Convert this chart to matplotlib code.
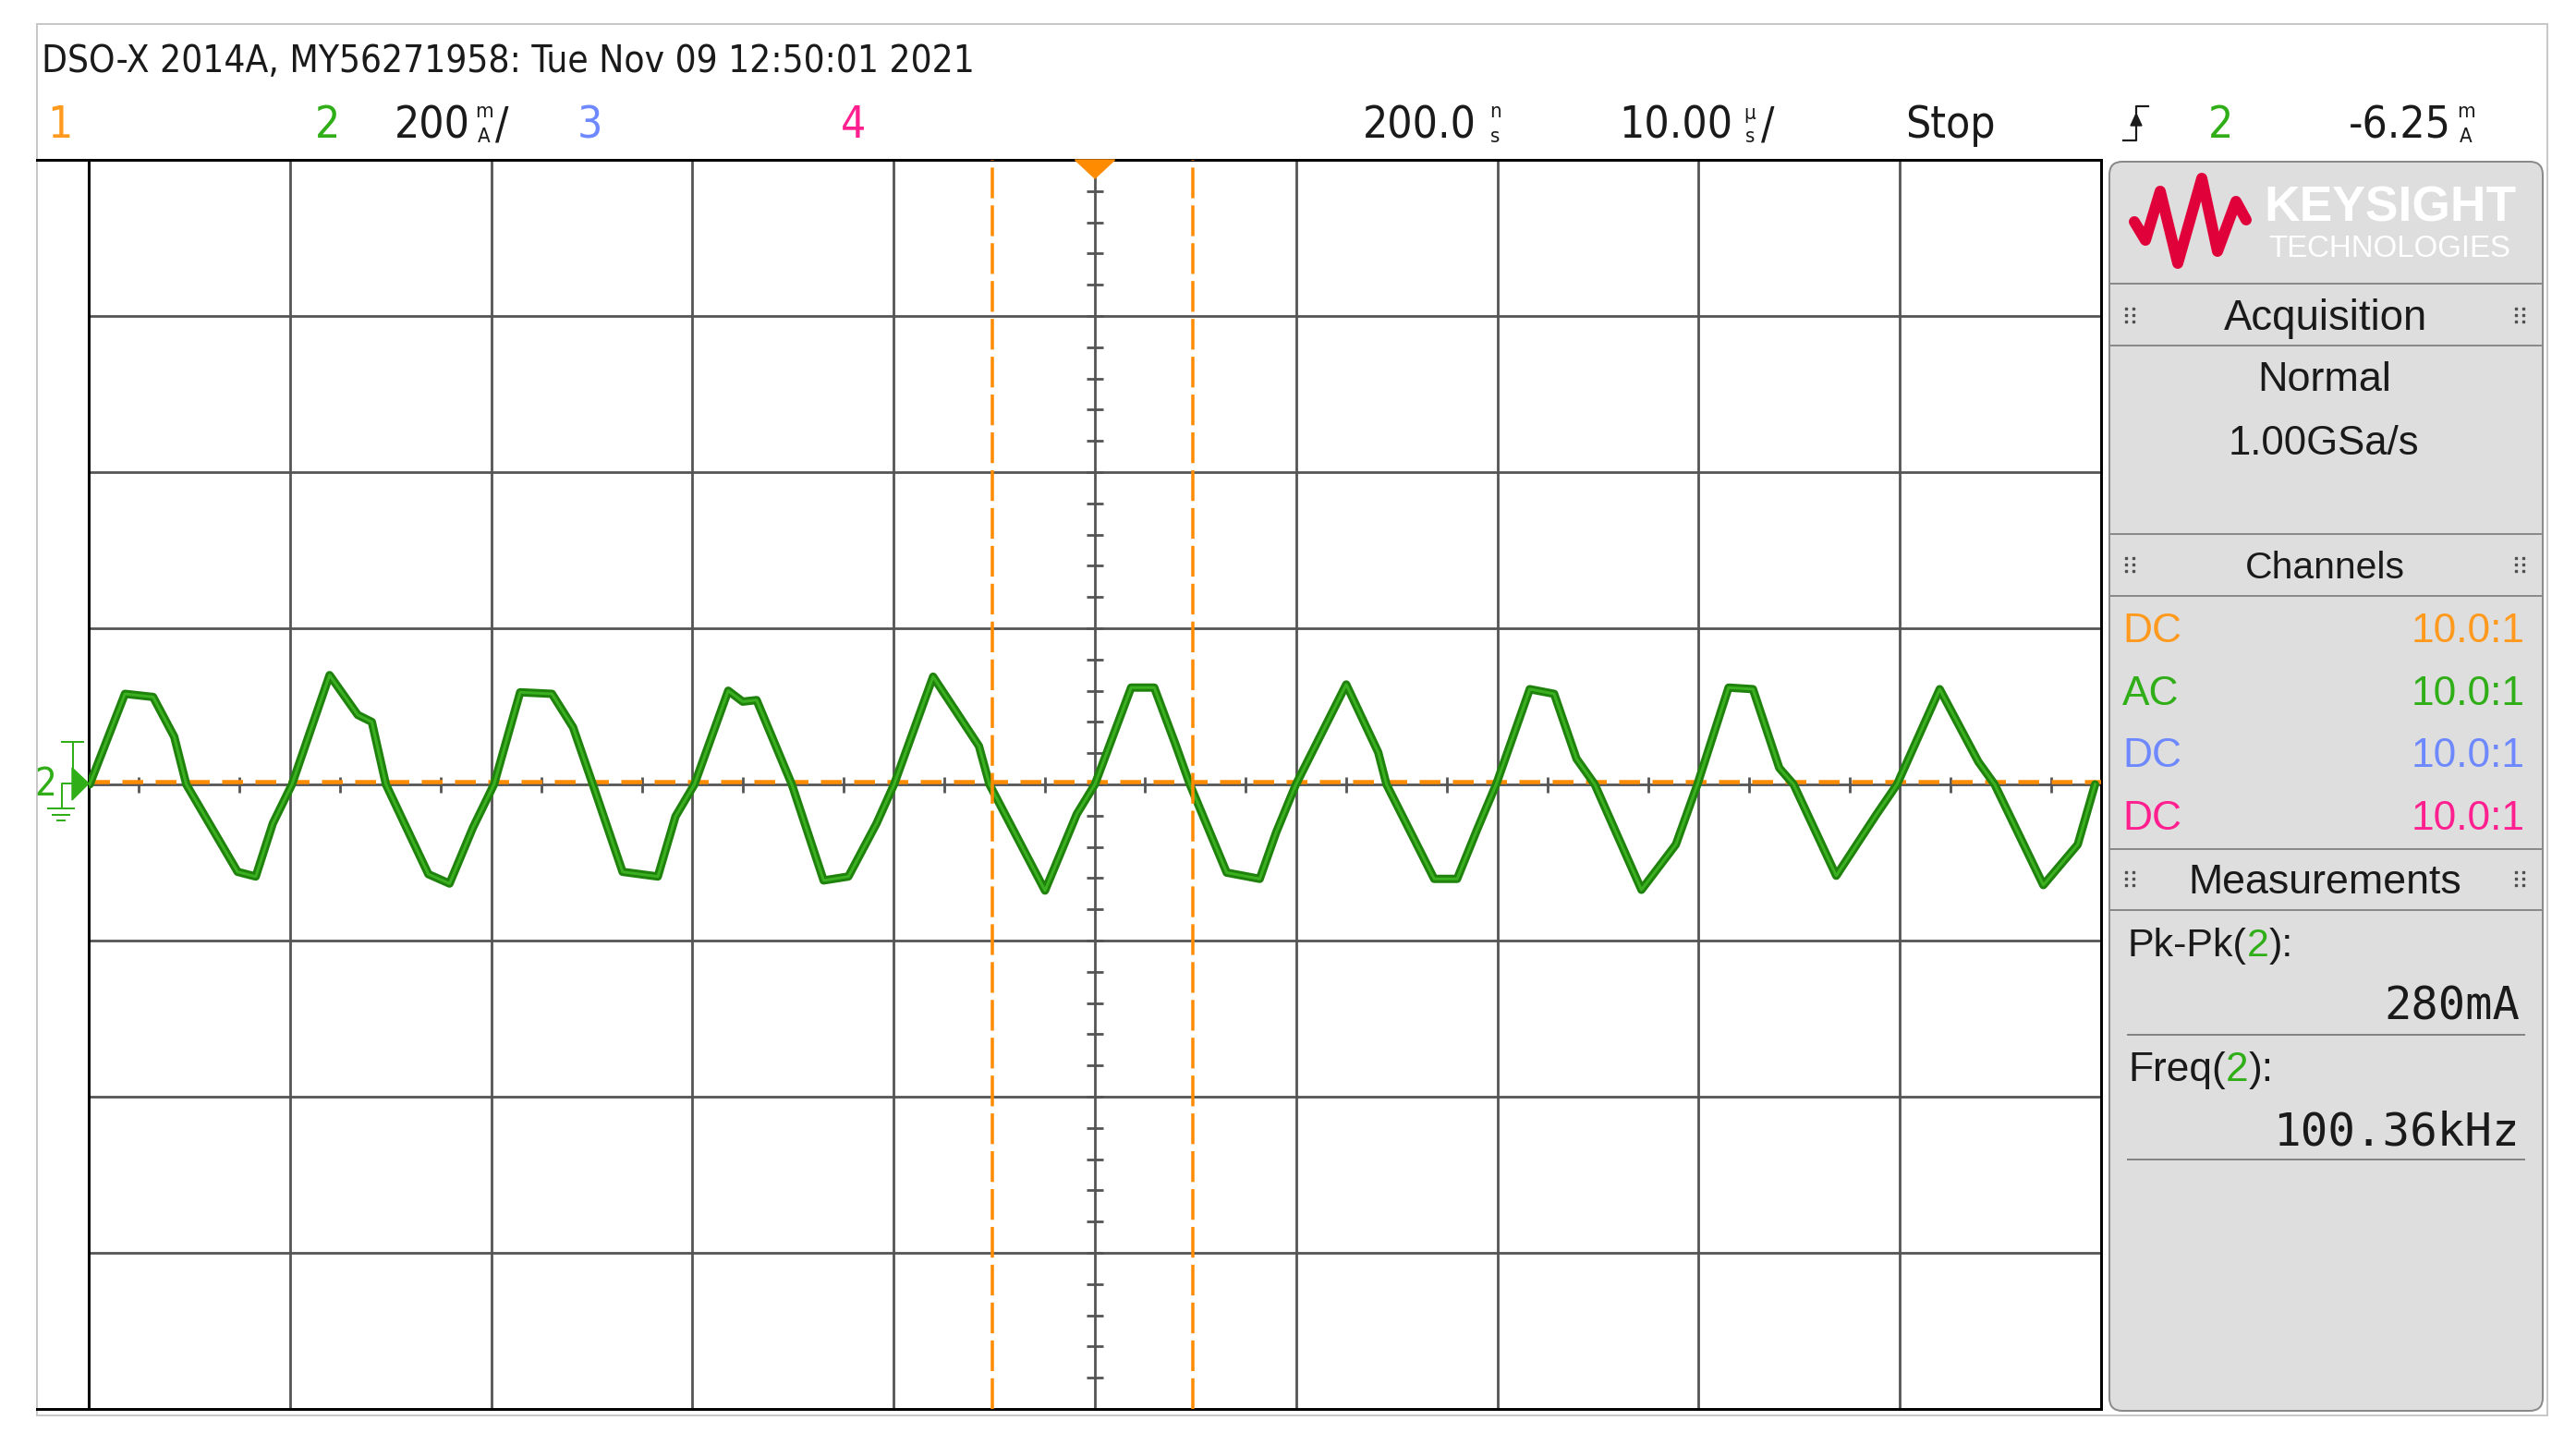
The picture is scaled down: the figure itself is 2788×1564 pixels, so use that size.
import numpy as np
import matplotlib
matplotlib.use('Agg')
import matplotlib.pyplot as plt
import matplotlib.transforms as mtransforms
from matplotlib import font_manager
from matplotlib.font_manager import FontProperties
from matplotlib.patches import Polygon, Rectangle, FancyBboxPatch

# ---- what the scope screen shows ----
title = 'DSO-X 2014A, MY56271958: Tue Nov 09 12:50:01 2021'
ch_labels = ['1', '2', '3', '4']
ch_colors = ['#ff9a1e', '#2fae17', '#6e88ff', '#ff1f8f']
ch_coupling = ['DC', 'AC', 'DC', 'DC']
ch_probe = ['10.0:1', '10.0:1', '10.0:1', '10.0:1']
ch2_scale = '200'      # mA/div
delay = '200.0'        # ns
timebase = '10.00'     # us/div
run_state = 'Stop'
trig_level = '-6.25'   # mA
acq_mode = 'Normal'
acq_rate = '1.00GSa/s'
meas_labels = ['Pk-Pk', 'Freq']
meas_values = ['280mA', '100.36kHz']

us_per_div = 10.0
ma_per_div = 200.0
cursor_t = [-5.1, 4.86]   # us, orange X cursors
ref_ma = 4.0              # orange dashed level

# channel 2 trace, corner points (us, mA)
t_us = [-49.95, -48.2, -46.8, -45.75, -45.15, -42.6, -41.7, -40.85, -39.9,
        -38.03, -36.63, -35.93, -35.23, -33.12, -32.07, -30.9, -29.86,
        -28.56, -26.98, -25.93, -24.95, -23.47, -21.72, -20.84, -19.9,
        -18.22, -17.5, -16.81, -15.06, -13.48, -12.25, -10.85, -9.98,
        -8.04, -5.76, -5.24, -2.48, -0.9, 0.0,
        1.8, 2.95, 4.01, 4.72, 6.55, 8.19, 9.0, 9.99,
        12.49, 14.08, 14.49, 16.86, 18.0, 18.99, 19.94,
        21.61, 22.82, 23.93, 24.84, 27.16, 28.87, 29.94,
        31.49, 32.7, 34.01, 34.72, 36.84, 38.85, 39.86,
        41.98, 43.9, 44.71, 47.13, 48.84, 49.7]
i_ma = [0, 116, 112, 61, 0, -112, -118, -50, 0,
        140, 89, 80, 0, -115, -127, -55, 0,
        118, 116, 73, 0, -112, -118, -41, 0,
        120, 106, 108, 0, -123, -118, -50, 0,
        138, 49, 0, -136, -38, 0,
        124, 124, 51, 0, -113, -121, -62, 0,
        128, 41, 0, -121, -121, -58, 0,
        122, 116, 33, 0, -135, -77, 0,
        124, 122, 21, 0, -117, -38, 0,
        122, 29, 0, -129, -77, 0]

# ---- layout ----
W, H = 2788, 1564
PX = 0.72            # points per pixel at dpi 100
orange = '#ff8c00'
grid = '#555555'
ink = '#1a1a1a'


def find_narrow():
    # a condensed sans for the tall narrow scope header font, if one is installed
    spare = None
    for f in font_manager.fontManager.ttflist:
        nm = f.name + ' ' + f.fname
        if f.style != 'normal' or f.weight not in (400, 'normal', 'regular'):
            continue
        if ('Narrow' in nm or 'Condensed' in nm
                or f.stretch in ('condensed', 'semi-condensed', 'extra-condensed')):
            if 'Semi' in nm or 'Extra' in nm or 'Ultra' in nm:
                spare = spare or f.fname
                continue
            return f.fname
    return spare


_np = find_narrow()
NARROW = {'fontproperties': FontProperties(fname=_np)} if _np else {'family': 'Liberation Sans'}
UI = {'family': 'Liberation Sans'}
MONO = {'family': 'DejaVu Sans Mono'}

fig = plt.figure(figsize=(W / 100, H / 100), dpi=100)
fig.patch.set_facecolor('white')

L, R, T, B = 96, 2274, 173, 1525
ax = fig.add_axes([L / W, 1 - B / H, (R - L) / W, (B - T) / H])
ax.set_xlim(-5 * us_per_div, 5 * us_per_div)
ax.set_ylim(-4 * ma_per_div, 4 * ma_per_div)
ax.set_xticks([])
ax.set_yticks([])
for sp in ax.spines.values():
    sp.set_color('black')
    sp.set_linewidth(3 * PX)

for k in range(-4, 5):
    ax.axvline(k * us_per_div, color=grid, lw=2.8 * PX, zorder=1)
for k in range(-3, 4):
    ax.axhline(k * ma_per_div, color=grid, lw=2.8 * PX, zorder=1)
xt = np.arange(-4.75, 5, 0.5) * us_per_div
yt = np.arange(-4, 4.01, 0.2) * ma_per_div
ax.plot(xt, np.zeros_like(xt), ls='none', marker='|', ms=17 * PX,
        mew=2.8 * PX, color=grid, zorder=2)
ax.plot(np.zeros_like(yt), yt, ls='none', marker='_', ms=18 * PX,
        mew=2.8 * PX, color=grid, zorder=2)

ax.axhline(ref_ma, color=orange, lw=4.5 * PX, dashes=(5, 3), zorder=3)
ax.plot(t_us, i_ma, color='#1f820c', lw=9 * PX, solid_joinstyle='round',
        solid_capstyle='round', zorder=4)
ax.plot(t_us, i_ma, color='#3bb020', lw=3 * PX, solid_joinstyle='round', zorder=5)
for c in cursor_t:
    ax.axvline(c, color=orange, lw=3.5 * PX, dashes=(9.5, 2.2), zorder=6)

# trigger position marker at top centre
trans = mtransforms.blended_transform_factory(ax.transData, ax.transAxes)
hw = 21.5 / ((R - L) / (10 * us_per_div))
ax.add_patch(Polygon([(-hw, 1.0), (hw, 1.0), (0, 1 - 20 / (B - T))],
                     closed=True, color=orange, transform=trans,
                     clip_on=False, zorder=7))

# ---- overlay in screen pixels ----
ov = fig.add_axes([0, 0, 1, 1], zorder=5)
ov.set_xlim(0, W)
ov.set_ylim(H, 0)
ov.axis('off')
renderer = fig.canvas.get_renderer()


def fit_size(s, width, font, weight='normal'):
    t = ov.text(0, 0, s, fontsize=20, fontweight=weight, **font)
    w = t.get_window_extent(renderer).width
    t.remove()
    return 20 * width / w


def put(s, x, yc, fs, color=ink, font=UI, ha='left', weight='normal'):
    return ov.text(x, yc + 0.36 * fs / PX, s, fontsize=fs, color=color,
                   ha=ha, va='baseline', fontweight=weight, **font)


def put_runs(parts, x0, x1, yc, font=UI):
    full = ''.join(p for p, _ in parts)
    fs = fit_size(full, x1 - x0, font)
    x = x0
    for s, col in parts:
        t = put(s, x, yc, fs, color=col, font=font)
        x += t.get_window_extent(renderer).width


# outer frame and screen edges
ov.add_patch(Rectangle((40, 26), 2717, 1506, fill=False, ec='#c8c8c8', lw=2 * PX))
ov.plot([40, L], [T, T], color='black', lw=3 * PX)
ov.plot([40, L], [B, B], color='black', lw=3 * PX)

# header line 1
fs1 = fit_size(title, 1054 - 45, NARROW)
put(title, 45, 63, fs1, font=NARROW)

# header line 2
yc2 = 132
fs2 = fit_size(ch2_scale, 509 - 427, NARROW)
fsu = 16
put(ch_labels[0], 64.5, yc2, fs2, color=ch_colors[0], font=NARROW, ha='center')
put(ch_labels[1], 355, yc2, fs2, color=ch_colors[1], font=NARROW, ha='center')
put(ch2_scale, 427, yc2, fs2, font=NARROW)
put('m', 524, 119, fsu, font=NARROW, ha='center')
put('A', 524, 146, fsu, font=NARROW, ha='center')
put('/', 543, yc2, fs2, font=NARROW, ha='center')
put(ch_labels[2], 638, yc2, fs2, color=ch_colors[2], font=NARROW, ha='center')
put(ch_labels[3], 924, yc2, fs2, color=ch_colors[3], font=NARROW, ha='center')
put(delay, 1475, yc2, fs2, font=NARROW)
put('n', 1618, 119, fsu, font=NARROW, ha='center')
put('s', 1618, 146, fsu, font=NARROW, ha='center')
put(timebase, 1752, yc2, fs2, font=NARROW)
put('\u00b5', 1894, 121, fsu, font=NARROW, ha='center')
put('s', 1894, 146, fsu, font=NARROW, ha='center')
put('/', 1913, yc2, fs2, font=NARROW, ha='center')
put(run_state, 2062, yc2, fs2, font=NARROW)
put(ch_labels[1], 2403.5, yc2, fs2, color=ch_colors[1], font=NARROW, ha='center')
put(trig_level, 2542, yc2, fs2, font=NARROW)
put('m', 2669, 119, fsu, font=NARROW, ha='center')
put('A', 2669, 146, fsu, font=NARROW, ha='center')

# rising edge trigger icon
ov.plot([2298, 2312, 2312, 2325], [152, 152, 115, 115], color=ink, lw=2.2 * PX)
ov.add_patch(Polygon([(2306, 136), (2318, 136), (2312, 123)], closed=True, color=ink))

# channel 2 ground / trigger level marker on the left
g = ch_colors[1]
put('2', 49, 846, 30, color=g, font=NARROW, ha='center')
ov.plot([67, 90], [803, 803], color=g, lw=2 * PX)
ov.plot([78.5, 78.5], [803, 832], color=g, lw=2 * PX)
ov.add_patch(Polygon([(78, 831), (78, 866), (96, 848)], closed=True, color=g))
ov.plot([78, 67, 67], [848, 848, 875], color=g, lw=2 * PX)
for half, y in [(14, 875), (9, 882), (4, 888)]:
    ov.plot([66 - half, 66 + half], [y, y], color=g, lw=2 * PX)

# ---- right side panel ----
px0, px1, py0, py1 = 2283, 2752, 175, 1527
ov.add_patch(FancyBboxPatch((px0, py0), px1 - px0, py1 - py0,
                            boxstyle='round,pad=0,rounding_size=14',
                            fc='#dedede', ec='#8a8a8a', lw=2 * PX))
ov.hlines([307, 374, 578, 645, 919, 985], px0 + 1, px1 - 1, color='#8a8a8a', lw=2 * PX)
ov.hlines([1120, 1255], 2302, 2733, color='#7a7a7a', lw=1.8 * PX)

# logo
logo_x = [2310, 2322, 2338, 2357, 2383, 2400, 2420, 2431]
logo_y = [240, 260, 207, 285, 193, 272, 218, 238]
ov.plot(logo_x, logo_y, color='#e0003a', lw=12 * PX,
        solid_joinstyle='round', solid_capstyle='round')
put('KEYSIGHT', 2450, 220, fit_size('KEYSIGHT', 273, UI, 'bold'),
    color='white', weight='bold')
put('TECHNOLOGIES', 2455, 266, fit_size('TECHNOLOGIES', 262, UI), color='white')

# grip dots on section headers
for yc in (341, 611, 951):
    for xc in (2305, 2727):
        gx = [xc - 4, xc + 4] * 3
        gy = [yc - 7, yc - 7, yc, yc, yc + 7, yc + 7]
        ov.plot(gx, gy, ls='none', marker='s', ms=2.6 * PX, color='#505050')

put('Acquisition', 2407, 341, fit_size('Acquisition', 220, UI))
put(acq_mode, 2443, 407, fit_size(acq_mode, 145, UI))
put(acq_rate, 2412, 476, fit_size(acq_rate, 206, UI))
put('Channels', 2430, 611, fit_size('Channels', 172, UI))

fsr = fit_size(ch_probe[0], 123, UI)
for k, yc in enumerate([679, 747, 814, 882]):
    put(ch_coupling[k], 2297, yc, fsr, color=ch_colors[k])
    put(ch_probe[k], 2733, yc, fsr, color=ch_colors[k], ha='right')

put('Measurements', 2368, 951, fit_size('Measurements', 295, UI))
put_runs([(meas_labels[0] + '(', ink), ('2', ch_colors[1]), ('):', ink)], 2303, 2483, 1019)
put(meas_values[0], 2727, 1086, fit_size(meas_values[0], 147, MONO), font=MONO, ha='right')
put_runs([(meas_labels[1] + '(', ink), ('2', ch_colors[1]), ('):', ink)], 2303, 2460, 1154)
put(meas_values[1], 2727, 1222, fit_size(meas_values[1], 267, MONO), font=MONO, ha='right')

fig.savefig('out.png', dpi=100, facecolor='white')
